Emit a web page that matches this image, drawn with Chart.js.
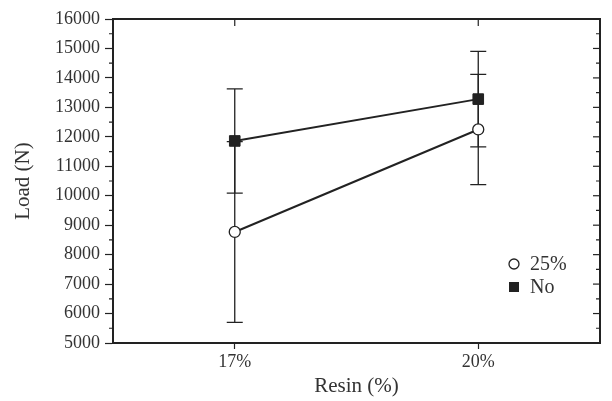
<!DOCTYPE html>
<html>
<head>
<meta charset="utf-8">
<script src="https://cdn.jsdelivr.net/npm/chart.js@4/dist/chart.umd.min.js"></script>
<style>
  html, body { margin: 0; padding: 0; background: #fff; }
  #wrap { width: 612px; height: 401px; }
</style>
</head>
<body>
<div id="wrap"><canvas id="loadChart"></canvas></div>
<script>
/* ========================= */
/* DATA */
/* ========================= */

const resinLabels = ['17%', '20%'];

const load25 = [8770, 12250];
const err25 = [3070, 1870];

const loadNo = [11860, 13280];
const errNo = [1770, 1620];

const yTicks = [5000, 6000, 7000, 8000, 9000, 10000, 11000, 12000, 13000, 14000, 15000, 16000];

const INK = '#222';
const SERIF = "'Liberation Serif', 'DejaVu Serif', serif";

/* ========================= */
/* PLUGIN: frame, ticks, error bars, legend */
/* ========================= */

const extras = {
  id: 'extras',
  beforeDatasetsDraw(chart) {
    const ctx = chart.ctx;
    const x = chart.scales.x;
    const y = chart.scales.y;
    const area = chart.chartArea;

    ctx.save();
    ctx.strokeStyle = INK;

    // right and top frame
    ctx.lineWidth = 2;
    ctx.beginPath();
    ctx.moveTo(area.left, area.top);
    ctx.lineTo(area.right, area.top);
    ctx.lineTo(area.right, area.bottom);
    ctx.stroke();

    // minor ticks left (outward), ticks right (inward)
    ctx.lineWidth = 1.2;
    for (let v = yTicks[0]; v <= yTicks[yTicks.length - 1]; v += 500) {
      const py = y.getPixelForValue(v);
      const major = v % 1000 === 0;
      ctx.beginPath();
      if (!major) {
        ctx.moveTo(area.left - 4, py);
        ctx.lineTo(area.left, py);
      }
      ctx.moveTo(area.right, py);
      ctx.lineTo(area.right - (major ? 7 : 4), py);
      ctx.stroke();
    }

    // top ticks (inward)
    resinLabels.forEach((lab, i) => {
      const px = x.getPixelForValue(i);
      ctx.beginPath();
      ctx.moveTo(px, area.top);
      ctx.lineTo(px, area.top + 7);
      ctx.stroke();
    });

    // error bars
    const series = [[load25, err25], [loadNo, errNo]];
    ctx.lineWidth = 1.3;
    series.forEach(([vals, errs]) => {
      vals.forEach((v, i) => {
        const px = x.getPixelForValue(i);
        const hi = y.getPixelForValue(v + errs[i]);
        const lo = y.getPixelForValue(v - errs[i]);
        ctx.beginPath();
        ctx.moveTo(px, hi);
        ctx.lineTo(px, lo);
        ctx.moveTo(px - 8, hi);
        ctx.lineTo(px + 8, hi);
        ctx.moveTo(px - 8, lo);
        ctx.lineTo(px + 8, lo);
        ctx.stroke();
      });
    });
    ctx.restore();
  },
  afterDraw(chart) {
    const ctx = chart.ctx;
    const area = chart.chartArea;
    const lx = area.right - 86;
    let ly = area.top + 245;

    ctx.save();
    ctx.font = '20px ' + SERIF;
    ctx.textBaseline = 'middle';
    chart.data.datasets.forEach((ds) => {
      ctx.strokeStyle = INK;
      ctx.lineWidth = 1.3;
      if (ds.pointStyle === 'circle') {
        ctx.fillStyle = '#fff';
        ctx.beginPath();
        ctx.arc(lx, ly, 5, 0, Math.PI * 2);
        ctx.fill();
        ctx.stroke();
      } else {
        ctx.fillStyle = INK;
        ctx.fillRect(lx - 5, ly - 5, 10, 10);
      }
      ctx.fillStyle = '#333';
      ctx.fillText(ds.label, lx + 16, ly + 1);
      ly += 23;
    });
    ctx.restore();
  }
};

/* ========================= */
/* CHART */
/* ========================= */

new Chart(document.getElementById('loadChart'), {
  type: 'line',
  data: {
    labels: resinLabels,
    datasets: [
      {
        label: '25%',
        data: load25,
        borderColor: INK,
        borderWidth: 2,
        pointStyle: 'circle',
        pointRadius: 5.5,
        pointBackgroundColor: '#fff',
        pointBorderColor: INK,
        pointBorderWidth: 1.3,
        tension: 0
      },
      {
        label: 'No',
        data: loadNo,
        borderColor: INK,
        borderWidth: 2,
        pointStyle: 'rect',
        pointRadius: 7.5,
        pointBackgroundColor: INK,
        pointBorderColor: INK,
        pointBorderWidth: 1,
        tension: 0
      }
    ]
  },
  options: {
    responsive: true,
    maintainAspectRatio: false,
    animation: false,
    layout: { padding: { top: 19, right: 12, left: 0, bottom: 0 } },
    plugins: {
      legend: { display: false },
      tooltip: { enabled: false }
    },
    scales: {
      x: {
        type: 'category',
        offset: true,
        afterFit: (s) => { s.height = 58; },
        grid: {
          drawOnChartArea: false,
          drawTicks: true,
          tickLength: 6,
          tickColor: INK,
          tickWidth: 1.2
        },
        border: { display: true, color: INK, width: 2 },
        ticks: {
          color: '#333',
          padding: 2,
          font: { family: SERIF, size: 18 }
        },
        title: {
          display: true,
          text: 'Resin (%)',
          color: '#333',
          font: { family: SERIF, size: 21 },
          padding: { top: 0, bottom: 2 }
        }
      },
      y: {
        min: 5000,
        max: 16000,
        afterFit: (s) => { s.width = 113; },
        afterBuildTicks: (s) => { s.ticks = yTicks.map(v => ({ value: v })); },
        grid: {
          drawOnChartArea: false,
          drawTicks: true,
          tickLength: 8,
          tickColor: INK,
          tickWidth: 1.2
        },
        border: { display: true, color: INK, width: 2 },
        ticks: {
          color: '#333',
          padding: 5,
          font: { family: SERIF, size: 18 },
          callback: (v) => String(v)
        },
        title: {
          display: true,
          text: 'Load (N)',
          color: '#333',
          font: { family: SERIF, size: 21 },
          padding: { top: 11, bottom: 0 }
        }
      }
    }
  },
  plugins: [extras]
});
</script>
</body>
</html>
